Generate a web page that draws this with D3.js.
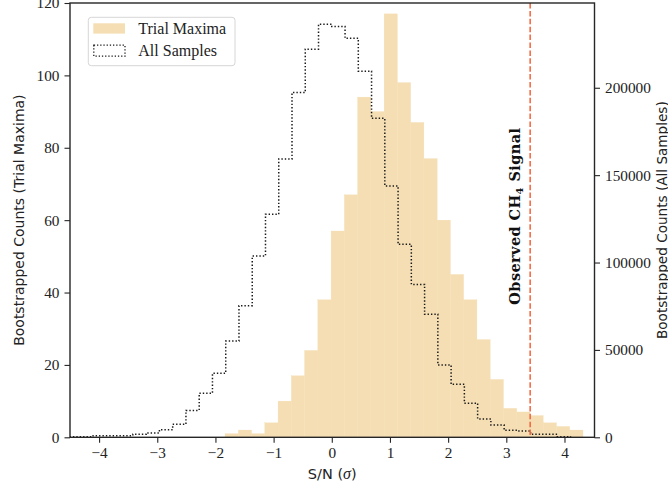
<!DOCTYPE html>
<html>
<head>
<meta charset="utf-8">
<script src="https://cdn.jsdelivr.net/npm/d3@7"></script>
<style>
  html, body { margin: 0; padding: 0; background: #fff; }
  svg { display: block; }
</style>
</head>
<body>
<svg id="chart" width="668" height="492"></svg>
<script>
// ---------------- data ----------------
const binWidth = 0.2279;
const trialStart = -1.835;
const trialCounts = [1, 2, 1, 4, 10, 17, 24, 38, 57, 67, 94, 90, 117, 98, 87, 77, 60, 45, 38, 27, 16, 8, 7, 6, 4, 3, 2];
const allStart = -4.558;
const allCounts = [300, 300, 900, 900, 900, 1700, 2500, 4350, 7400, 15400, 25200, 36600, 55100, 75300,
  103700, 127600, 159200, 197300, 222100, 236400, 235000, 228300, 209500, 182500, 143800, 110400,
  87500, 70400, 41400, 30300, 19500, 10500, 7000, 4000, 3600, 1700, 1700, 350];
const observedSignal = 3.41;
const xTicks = [-4, -3, -2, -1, 0, 1, 2, 3, 4];
const yLeftTicks = [0, 20, 40, 60, 80, 100, 120];
const yRightTicks = [0, 50000, 100000, 150000, 200000];
const legendLabels = ["Trial Maxima", "All Samples"];

// ---------------- layout ----------------
const W = 668, H = 492;
const margin = { left: 70, top: 3, right: 73.5, bottom: 54.7 };
const x0 = margin.left, x1 = W - margin.right, y0 = margin.top, y1 = H - margin.bottom;

const x = d3.scaleLinear().domain([-4.5, 4.516]).range([x0, x1]);
const yL = d3.scaleLinear().domain([0, 120]).range([y1, y0]);
const yR = d3.scaleLinear().domain([0, 248500]).range([y1, y0]);

const svg = d3.select("#chart");
const serif = "'Liberation Serif', 'Times New Roman', serif";
const sans = "'DejaVu Sans', sans-serif";
const wheat = "#f5deb3";

svg.append("defs").append("clipPath").attr("id", "plotclip")
  .append("rect").attr("x", x0).attr("y", y0).attr("width", x1 - x0).attr("height", y1 - y0);

const plot = svg.append("g").attr("clip-path", "url(#plotclip)");

// trial maxima bars
const trialBins = trialCounts.map((c, i) => ({ a: trialStart + i * binWidth, b: trialStart + (i + 1) * binWidth, c }));
plot.selectAll("rect.bar").data(trialBins).enter().append("rect")
  .attr("class", "bar")
  .attr("x", d => x(d.a))
  .attr("width", d => x(d.b) - x(d.a))
  .attr("y", d => yL(d.c))
  .attr("height", d => yL(0) - yL(d.c))
  .attr("fill", wheat)
  .attr("stroke", wheat)
  .attr("stroke-width", 0.3);

// all samples step outline
const stepPts = [[allStart, 0]];
allCounts.forEach((c, i) => {
  stepPts.push([allStart + i * binWidth, c]);
  stepPts.push([allStart + (i + 1) * binWidth, c]);
});
stepPts.push([allStart + allCounts.length * binWidth, 0]);
const line = d3.line().x(d => x(d[0])).y(d => yR(d[1]));
plot.append("path")
  .attr("d", line(stepPts))
  .attr("fill", "none")
  .attr("stroke", "#1a1a1a")
  .attr("stroke-width", 1.5)
  .attr("stroke-dasharray", "1.4,2");

// observed signal line
plot.append("line")
  .attr("x1", x(observedSignal)).attr("x2", x(observedSignal))
  .attr("y1", y0).attr("y2", y1)
  .attr("stroke", "#f4623a")
  .attr("stroke-width", 1.5)
  .attr("stroke-dasharray", "5.5,2.4");

// observed label
const obs = svg.append("text")
  .attr("transform", `translate(${x(observedSignal) - 10},${(y0 + y1) / 2 - 4}) rotate(-90)`)
  .attr("text-anchor", "middle")
  .attr("font-family", "'DejaVu Serif', serif")
  .attr("font-weight", "bold")
  .attr("font-size", 14.5)
  .attr("letter-spacing", 0.4)
  .attr("fill", "#111");
obs.append("tspan").text("Observed CH");
obs.append("tspan").attr("dy", 3).attr("font-size", 10).text("4");
obs.append("tspan").attr("dy", -3).text(" Signal");

// frame
svg.append("rect")
  .attr("x", x0).attr("y", y0).attr("width", x1 - x0).attr("height", y1 - y0)
  .attr("fill", "none").attr("stroke", "#262626").attr("stroke-width", 1.4);

// axes
const fmtMinus = d => (d < 0 ? "\u2212" + Math.abs(d) : String(d));
const xAxis = svg.append("g").attr("transform", `translate(0,${y1})`)
  .call(d3.axisBottom(x).tickValues(xTicks).tickFormat(fmtMinus).tickSize(5.5).tickPadding(3));
const lAxis = svg.append("g").attr("transform", `translate(${x0},0)`)
  .call(d3.axisLeft(yL).tickValues(yLeftTicks).tickSize(5.5).tickPadding(5));
const rAxis = svg.append("g").attr("transform", `translate(${x1},0)`)
  .call(d3.axisRight(yR).tickValues(yRightTicks).tickFormat(d3.format("d")).tickSize(5.5).tickPadding(5));
[xAxis, lAxis, rAxis].forEach(g => {
  g.select(".domain").remove();
  g.selectAll(".tick line").attr("stroke", "#262626").attr("stroke-width", 1.1);
  g.selectAll(".tick text").attr("font-family", serif).attr("font-size", 15.3).attr("fill", "#222");
});
xAxis.selectAll(".tick text").attr("dy", "0.71em").attr("y", 10);

// axis labels
svg.append("text")
  .attr("x", (x0 + x1) / 2).attr("y", 478.5)
  .attr("text-anchor", "middle")
  .attr("font-family", sans).attr("font-size", 14.5).attr("fill", "#222")
  .call(t => {
    t.append("tspan").text("S/N (");
    t.append("tspan").attr("font-family", serif).attr("font-style", "italic").attr("font-size", 16).text("\u03C3");
    t.append("tspan").text(")");
  });
svg.append("text")
  .attr("transform", `translate(23.5,${(y0 + y1) / 2}) rotate(-90)`)
  .attr("text-anchor", "middle")
  .attr("font-family", sans).attr("font-size", 14).attr("fill", "#222")
  .text("Bootstrapped Counts (Trial Maxima)");
svg.append("text")
  .attr("transform", `translate(666.5,${(y0 + y1) / 2}) rotate(-90)`)
  .attr("text-anchor", "middle")
  .attr("font-family", sans).attr("font-size", 13.6).attr("fill", "#222")
  .text("Bootstrapped Counts (All Samples)");

// legend
const lg = svg.append("g");
lg.append("rect")
  .attr("x", 88.3).attr("y", 17.3).attr("width", 146.7).attr("height", 48.4).attr("rx", 3)
  .attr("fill", "#fff").attr("fill-opacity", 0.85)
  .attr("stroke", "#d6d6d6").attr("stroke-width", 1);
lg.append("rect").attr("x", 93.3).attr("y", 23.3).attr("width", 31.7).attr("height", 10.3).attr("fill", wheat);
lg.append("rect").attr("x", 93.8).attr("y", 45.2).attr("width", 31.2).attr("height", 11)
  .attr("fill", "none").attr("stroke", "#1a1a1a").attr("stroke-width", 1.3).attr("stroke-dasharray", "1.3,1.9");
lg.selectAll("text.lg").data(legendLabels).enter().append("text")
  .attr("class", "lg")
  .attr("x", 138.3)
  .attr("y", (d, i) => 34 + i * 21.8)
  .attr("font-family", serif).attr("font-size", 16).attr("fill", "#222")
  .text(d => d);
</script>
</body>
</html>
